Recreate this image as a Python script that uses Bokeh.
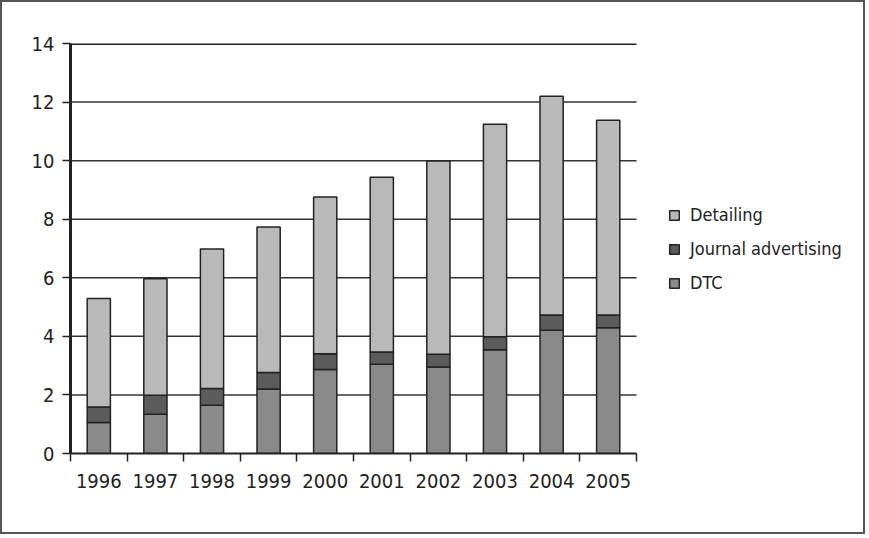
from bokeh.plotting import figure
from bokeh.models import FixedTicker, Legend
from bokeh.embed import file_html
from bokeh.resources import INLINE

years = ["1996", "1997", "1998", "1999", "2000", "2001", "2002", "2003", "2004", "2005"]
dtc = [1.06, 1.34, 1.65, 2.20, 2.87, 3.05, 2.95, 3.54, 4.21, 4.29]
journal = [0.53, 0.65, 0.57, 0.57, 0.54, 0.42, 0.44, 0.45, 0.52, 0.44]
detailing = [3.70, 3.98, 4.76, 4.96, 5.35, 5.96, 6.60, 7.25, 7.47, 6.65]
series = ["DTC", "Journal advertising", "Detailing"]
colors = ["#8a8a8a", "#5c5c5c", "#b9b9b9"]
y_ticks = [0, 2, 4, 6, 8, 10, 12, 14]

FONT = "DejaVu Sans Condensed"
INK = "#222222"

n = len(years)
xs = list(range(n))
data = {"x": xs, "DTC": dtc, "Journal advertising": journal, "Detailing": detailing}

W, H = 865, 534
left, right, top_b, bottom = 68, 3, 41, 83
frame_w = W - left - right
x_end = -0.5 + frame_w * n / 566.0

p = figure(width=W, height=H, output_backend="svg", toolbar_location=None,
           x_range=(-0.5, x_end), y_range=(0, 14),
           min_border_left=left, min_border_right=right, min_border_top=top_b, min_border_bottom=bottom)
p.styles = {"border": "2px solid #555555"}
p.outline_line_color = None
p.background_fill_color = "white"
p.border_fill_color = "white"
p.xgrid.grid_line_color = None
p.ygrid.grid_line_color = None

# gridlines limited to the category span
grid_y = y_ticks[1:-1]
p.segment(x0=[-0.5] * len(grid_y), x1=[n - 0.5] * len(grid_y), y0=grid_y, y1=grid_y,
          line_color="#333333", line_width=1.5)
p.segment(x0=[-0.5], x1=[n - 0.5], y0=[y_ticks[-1]], y1=[y_ticks[-1]], line_color=INK, line_width=3)

renderers = p.vbar_stack(series, x="x", width=0.41, source=data, fill_color=colors,
                         line_color=INK, line_width=1.5)

p.yaxis.ticker = FixedTicker(ticks=y_ticks)
p.yaxis.axis_line_width = 3
p.yaxis.axis_line_color = INK
p.yaxis.major_tick_out = 8
p.yaxis.major_tick_in = 0
p.yaxis.major_tick_line_color = INK
p.yaxis.major_tick_line_width = 1.5
p.yaxis.minor_tick_line_color = None
p.yaxis.major_label_standoff = 8

p.xaxis.ticker = FixedTicker(ticks=xs, minor_ticks=[i - 0.5 for i in range(n + 1)])
p.xaxis.bounds = (-0.5, n - 0.5)
p.xaxis.major_label_overrides = {i: y for i, y in enumerate(years)}
p.xaxis.axis_line_width = 2
p.xaxis.axis_line_color = INK
p.xaxis.major_tick_line_color = None
p.xaxis.major_tick_out = 0
p.xaxis.minor_tick_out = 8
p.xaxis.minor_tick_in = 0
p.xaxis.minor_tick_line_color = INK
p.xaxis.minor_tick_line_width = 1.5
p.xaxis.major_label_standoff = 12

for ax in (p.xaxis[0], p.yaxis[0]):
    ax.major_label_text_font = FONT
    ax.major_label_text_font_size = "20px"
    ax.major_label_text_color = INK

legend = Legend(items=[(s, [r]) for s, r in zip(series, renderers)][::-1],
                location=(598, 160), orientation="vertical")
legend.border_line_color = None
legend.background_fill_alpha = 0
legend.label_text_font = FONT
legend.label_text_font_size = "18px"
legend.label_text_color = INK
legend.glyph_width = 12
legend.glyph_height = 12
legend.label_height = 20
legend.spacing = 13
legend.label_standoff = 10
legend.padding = 0
legend.margin = 0
p.add_layout(legend)

open("out.html", "w").write(file_html(p, INLINE))
